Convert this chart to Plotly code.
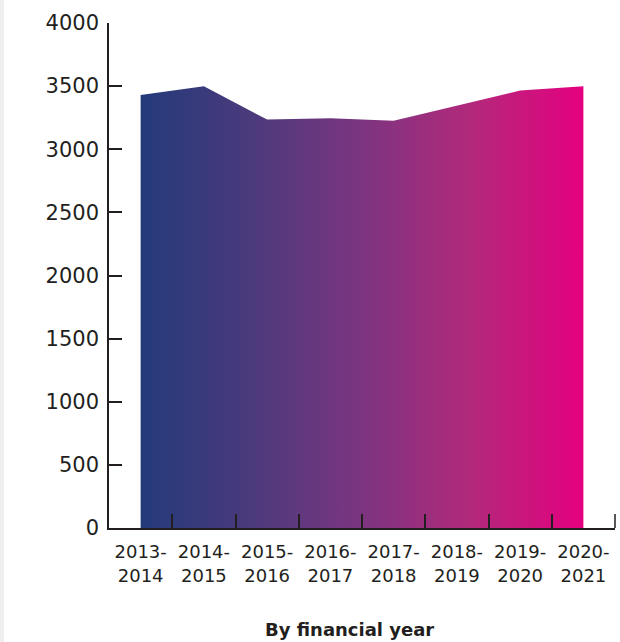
import plotly.graph_objects as go

categories = ["2013-<br>2014", "2014-<br>2015", "2015-<br>2016", "2016-<br>2017",
              "2017-<br>2018", "2018-<br>2019", "2019-<br>2020", "2020-<br>2021"]
values = [3430, 3500, 3235, 3245, 3225, 3345, 3465, 3500]
y_ticks = [0, 500, 1000, 1500, 2000, 2500, 3000, 3500, 4000]
x_title = "By financial year"

ink = "#231f20"

fig = go.Figure()
fig.add_trace(go.Scatter(
    x=categories, y=values, mode="lines",
    line=dict(width=0, color="rgba(0,0,0,0)"),
    fill="tozeroy",
    fillgradient=dict(
        type="horizontal",
        colorscale=[[0.0, "#233a7a"], [0.25, "#4b3a7c"], [0.5, "#7c3580"],
                    [0.75, "#b3287b"], [1.0, "#e5007f"]],
    ),
    hoverinfo="x+y",
    showlegend=False,
))

plot_h = 642 - 23 - 114
fig.update_layout(
    width=620, height=642,
    margin=dict(l=109, r=5, t=23, b=114),
    paper_bgcolor="white", plot_bgcolor="white",
    font=dict(family="DejaVu Sans", color=ink),
    xaxis=dict(
        type="category", range=[-0.5, 7.5],
        showgrid=False, zeroline=False,
        showline=True, linecolor=ink, linewidth=1.5,
        ticks="inside", tickson="boundaries", ticklen=14, tickwidth=1.5, tickcolor=ink,
        tickfont=dict(size=18, color=ink),
        ticklabelstandoff=7,
    ),
    yaxis=dict(
        range=[0, 4000], tickvals=y_ticks,
        showgrid=False, zeroline=False,
        showline=True, linecolor=ink, linewidth=1.5,
        ticks="inside", ticklen=13, tickwidth=1.5, tickcolor=ink,
        tickfont=dict(size=21, color=ink),
        ticklabelstandoff=4,
    ),
    shapes=[
        dict(type="rect", xref="paper", yref="paper",
             x0=-109/506, x1=-105/506, y0=-114/plot_h, y1=1 + 23/plot_h,
             fillcolor="#efefef", line=dict(width=0), layer="below"),
        dict(type="line", xref="paper", yref="paper",
             x0=1, x1=1, y0=0, y1=14/plot_h,
             line=dict(color=ink, width=1.5)),
    ],
    annotations=[dict(text="<b>" + x_title + "</b>", xref="paper", yref="paper",
                      x=(349 - 109) / 506, y=-(629 - 528) / plot_h,
                      xanchor="center", yanchor="middle", showarrow=False,
                      font=dict(size=18, color=ink))],
)

fig.write_html("out.html", config={"displayModeBar": False},
               post_script="document.body.style.margin='0';document.body.style.overflow='hidden';")
